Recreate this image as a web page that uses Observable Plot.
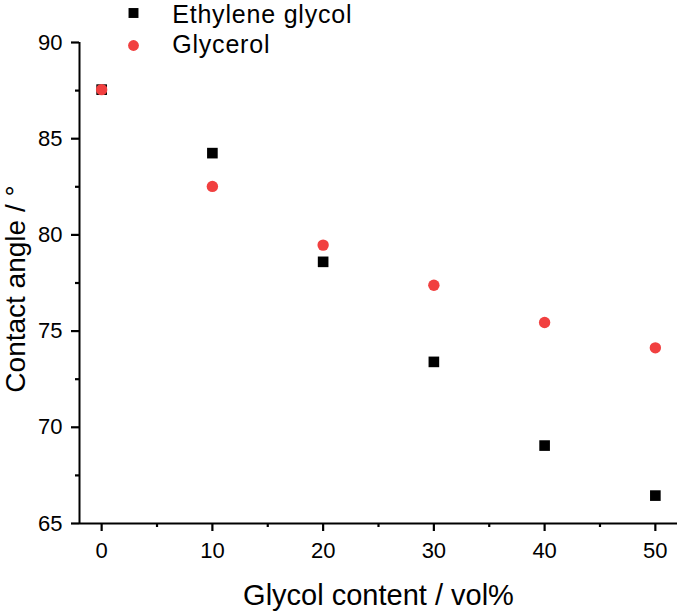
<!DOCTYPE html>
<html><head><meta charset="utf-8">
<script src="https://cdn.jsdelivr.net/npm/d3@7"></script>
<script src="https://cdn.jsdelivr.net/npm/@observablehq/plot@0.6"></script>
<style>body{margin:0;background:#fff;} #chart svg{display:block;}</style>
</head><body><div id="chart"></div>
<script>
const glycolContent = [0, 10, 20, 30, 40, 50];
const ethyleneGlycol = [87.55, 84.25, 78.6, 73.4, 69.05, 66.45];
const glycerol = [87.55, 82.52, 79.47, 77.38, 75.45, 74.13];
const xTicks = [0, 10, 20, 30, 40, 50];
const xMinorTicks = [5, 15, 25, 35, 45];
const yTicks = [65, 70, 75, 80, 85, 90];
const yMinorTicks = [67.5, 72.5, 77.5, 82.5, 87.5];
const seriesNames = ["Ethylene glycol", "Glycerol"];
const seriesColors = ["#000000", "#F14040"];
const xLabel = "Glycol content / vol%";
const yLabel = "Contact angle / °";

const egData = glycolContent.map((x, i) => ({x, y: ethyleneGlycol[i]}));
const glyData = glycolContent.map((x, i) => ({x, y: glycerol[i]}));

const W = 679, H = 611, ML = 79, MR = 2, MT = 42, MB = 88;
const FW = W - ML - MR, FH = H - MT - MB;
const tk = {stroke: "#000", strokeWidth: 2.2};

const chart = Plot.plot({
  width: W,
  height: H,
  marginLeft: ML,
  marginRight: MR,
  marginTop: MT,
  marginBottom: MB,
  style: {fontFamily: "'Liberation Sans', Arial, sans-serif", color: "#000", background: "#fff"},
  x: {domain: [-2, 52], axis: null},
  y: {domain: [65, 90], axis: null},
  marks: [
    Plot.ruleY([65], {stroke: "#000", strokeWidth: 2}),
    Plot.ruleX([-2], {stroke: "#000", strokeWidth: 2}),
    // tick marks (outward)
    Plot.tickX(xTicks, {x: d => d, insetTop: FH, insetBottom: -8, ...tk}),
    Plot.tickX(xMinorTicks, {x: d => d, insetTop: FH, insetBottom: -4, ...tk}),
    Plot.tickY(yTicks, {y: d => d, insetRight: FW, insetLeft: -8, ...tk}),
    Plot.tickY(yMinorTicks, {y: d => d, insetRight: FW, insetLeft: -4, ...tk}),
    // tick labels
    Plot.axisX({ticks: xTicks, tickSize: 0, tickPadding: 19, fill: "#000", fontSize: 22, label: null, tickFormat: d => String(d)}),
    Plot.axisY({ticks: yTicks, tickSize: 0, tickPadding: 17, fill: "#000", fontSize: 22, label: null, tickFormat: d => String(d)}),
    Plot.dot(egData, {x: "x", y: "y", symbol: "square", fill: seriesColors[0], r: 6}),
    Plot.dot(glyData, {x: "x", y: "y", symbol: "circle", fill: seriesColors[1], r: 5.7}),
    // legend
    Plot.dot([seriesNames[0]], {frameAnchor: "top-left", dx: 54, dy: -29.5, symbol: "square", fill: seriesColors[0], r: 5.6}),
    Plot.dot([seriesNames[1]], {frameAnchor: "top-left", dx: 54, dy: 3, symbol: "circle", fill: seriesColors[1], r: 5.4}),
    Plot.text([seriesNames[0]], {text: d => d, frameAnchor: "top-left", dx: 92.7, dy: -28, textAnchor: "start", lineAnchor: "middle", fontSize: 25, fill: "#000"}),
    Plot.text([seriesNames[1]], {text: d => d, frameAnchor: "top-left", dx: 92.7, dy: 2.7, textAnchor: "start", lineAnchor: "middle", fontSize: 25, fill: "#000"}),
    // axis titles
    Plot.text([yLabel], {text: d => d, frameAnchor: "left", dx: -63, dy: 6, rotate: -90, textAnchor: "middle", lineAnchor: "middle", fontSize: 28, fill: "#000"}),
    Plot.text([xLabel], {text: d => d, frameAnchor: "bottom", dy: 72, textAnchor: "middle", lineAnchor: "middle", fontSize: 29, fill: "#000"})
  ]
});
chart.querySelectorAll("text").forEach(t => {
  if (seriesNames.includes(t.textContent)) t.style.letterSpacing = "0.8px";
});
document.getElementById("chart").appendChild(chart);
</script>
</body></html>
